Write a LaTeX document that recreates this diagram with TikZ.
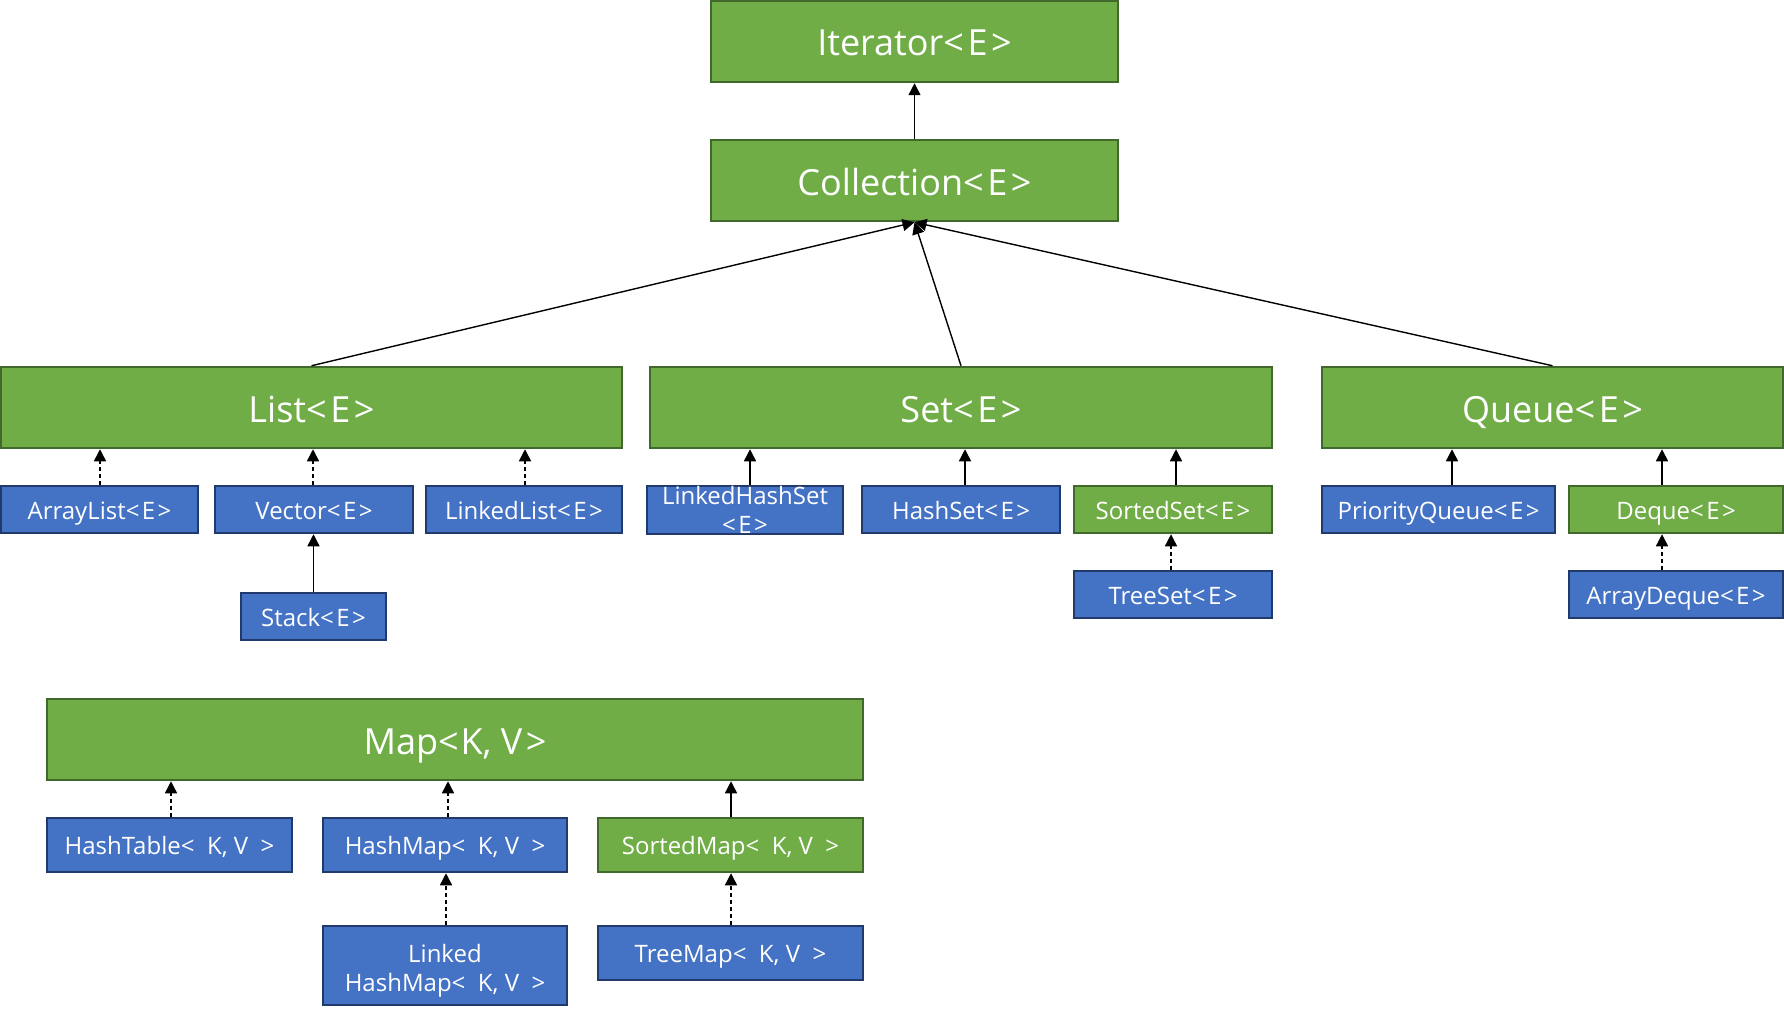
\documentclass[tikz,border=0pt]{standalone}
\usepackage{fontspec}
\setmainfont{Open Sans}
\usepackage{xcolor}
\usetikzlibrary{arrows.meta}
\definecolor{ifgreen}{HTML}{70AD47}
\definecolor{ifedge}{HTML}{41692B}
\definecolor{clblue}{HTML}{4472C4}
\definecolor{cledge}{HTML}{22396B}
\tikzstyle{arrow} = [line width=1.4pt,-{Triangle[width=12pt,length=12pt]}]
\tikzstyle{dasharrow} = [arrow,dash pattern=on 4pt off 3pt]
\newcommand{\ang}[1]{<\kern.1em#1\kern.1em>}

\begin{document}
\begin{tikzpicture}
        [
            x=1pt,y=-1pt,
            iface/.style={rectangle,draw=ifedge,fill=ifgreen,line width=2.5pt,text=white,inner sep=0pt,align=center},
            cls/.style={rectangle,draw=cledge,fill=clblue,line width=2.5pt,text=white,inner sep=0pt,align=center},
            big/.style={minimum height=81pt,text height=29pt,text depth=0pt,font=\fontsize{36}{44}\selectfont},
            twoline/.style={minimum height=47pt,font=\fontsize{24}{29}\selectfont},
            small/.style={twoline,text height=19pt,text depth=0pt},
        ]
    \useasboundingbox (0,0) rectangle (1784,1011);

    % collection side
    \node[iface,big,minimum width=407pt] (iter)  at (914.5,41.5)  {Iterator\ang{E}};
    \node[iface,big,minimum width=407pt] (coll)  at (914.5,180.5) {Collection\ang{E}};
    \node[iface,big,minimum width=621pt] (list)  at (311.5,407.5) {List\ang{E}};
    \node[iface,big,minimum width=622pt] (set)   at (961,407.5)   {Set\ang{E}};
    \node[iface,big,minimum width=461pt] (queue) at (1552.5,407.5){Queue\ang{E}};

    \node[cls,small,minimum width=197pt]   (alist)  at (99.5,509.5)  {ArrayList\ang{E}};
    \node[cls,small,minimum width=198pt]   (vector) at (314,509.5)   {Vector\ang{E}};
    \node[cls,small,minimum width=196pt]   (llist)  at (524,509.5)   {LinkedList\ang{E}};
    \node[cls,small,minimum width=145pt]   (stack)  at (313.5,616.5) {Stack\ang{E}};
    \node[cls,twoline,minimum width=196pt,minimum height=48pt] (lhset) at (745,510) {LinkedHashSet\\\ang{E}};
    \node[cls,small,minimum width=198pt]   (hset)   at (961,509.5)   {HashSet\ang{E}};
    \node[iface,small,minimum width=198pt] (sset)   at (1173,509.5)  {SortedSet\ang{E}};
    \node[cls,small,minimum width=198pt]   (tset)   at (1173,594.5)  {TreeSet\ang{E}};
    \node[cls,small,minimum width=233pt]   (pqueue) at (1438.5,509.5){PriorityQueue\ang{E}};
    \node[iface,small,minimum width=214pt] (deque)  at (1676,509.5)  {Deque\ang{E}};
    \node[cls,small,minimum width=214pt]   (adeque) at (1676,594.5)  {ArrayDeque\ang{E}};

    % map side
    \node[iface,big,minimum width=816pt] (map) at (455,739.5) {Map<\kern.05em K, V\kern.1em>};
    \node[cls,small,minimum width=245pt,minimum height=54pt]   (htable) at (169.5,845) {HashTable<~ K, V ~>};
    \node[cls,small,minimum width=244pt,minimum height=54pt]   (hmap)   at (445,845)   {HashMap<~ K, V ~>};
    \node[iface,small,minimum width=265pt,minimum height=54pt] (smap)   at (730.5,845) {SortedMap<~ K, V ~>};
    \node[cls,twoline,minimum width=244pt,minimum height=79pt] (lhmap)  at (445,965.5) {\rule{0pt}{28pt}Linked\\HashMap<~ K, V ~>};
    \node[cls,small,minimum width=265pt,minimum height=54pt]   (tmap)   at (730.5,953) {TreeMap<~ K, V ~>};

    \draw[arrow] (coll) -- (iter);
    \foreach \c in {list,set,queue}
        \draw[arrow] (\c.north) -- (coll.south);

    % solid: extends
    \foreach \c/\p/\d in {stack/vector/0, lhset/set/5, hset/set/4, sset/set/3,
                          pqueue/queue/13.5, deque/queue/-14, smap/map/0.5}
        \draw[arrow] ([xshift=\d pt]\c.north) -- ([xshift=\d pt]\c.north |- \p.south);

    % dashed: implements
    \foreach \c/\p/\d in {alist/list/0.5, vector/list/-1, llist/list/1, tset/sset/-2,
                          adeque/deque/-14, htable/map/1.5, hmap/map/3, lhmap/hmap/1, tmap/smap/0.5}
        \draw[dasharrow] ([xshift=\d pt]\c.north) -- ([xshift=\d pt]\c.north |- \p.south);
\end{tikzpicture}
\end{document}
